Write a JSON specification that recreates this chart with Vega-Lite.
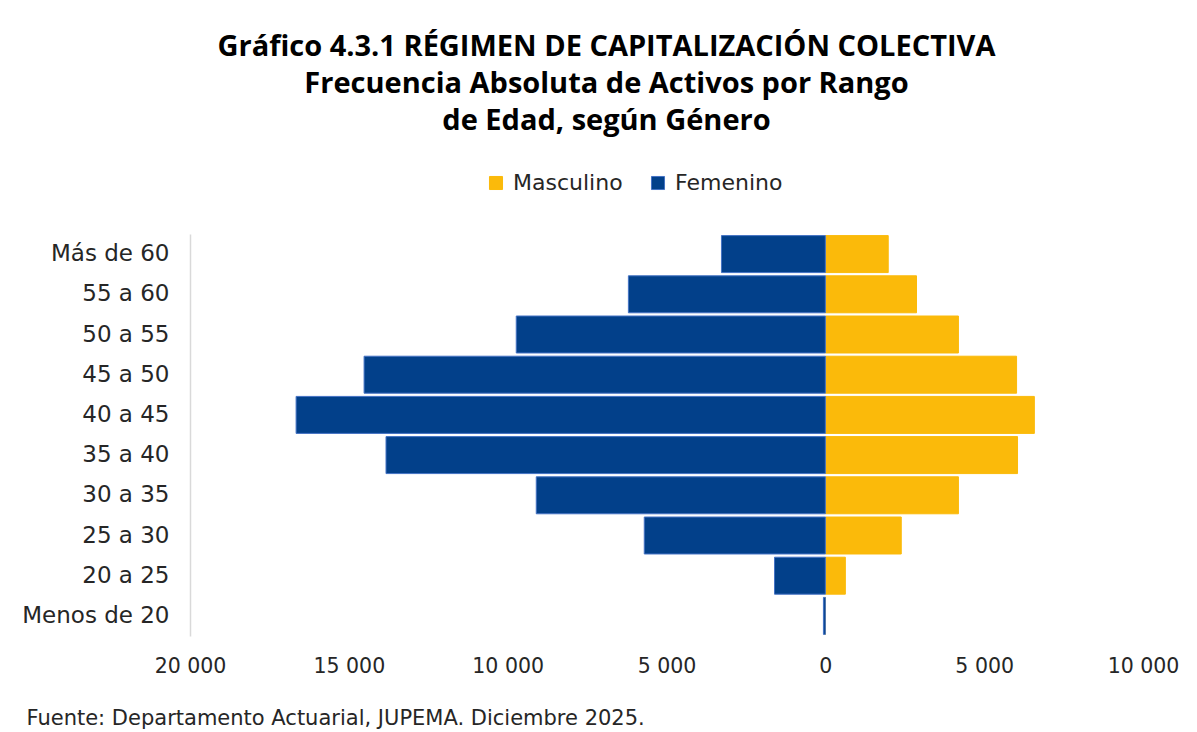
{
  "$schema": "https://vega.github.io/schema/vega-lite/v6.json",
  "autosize": {"type": "none"},
  "padding": {"left": 190, "top": 234, "right": 54, "bottom": 96},
  "width": 953,
  "height": 402,
  "background": "white",
  "title": {
    "text": ["Gráfico 4.3.1 RÉGIMEN DE CAPITALIZACIÓN COLECTIVA", "Frecuencia Absoluta de Activos por Rango", "de Edad, según Género"],
    "font": "Open Sans",
    "fontSize": 29,
    "fontWeight": "bold",
    "color": "#000000",
    "lineHeight": 37,
    "anchor": "middle",
    "frame": "group",
    "dx": -60,
    "offset": 36
  },
  "data": {
    "values": [
      {"edad": "Más de 60", "genero": "Masculino", "valor": 1980},
      {"edad": "Más de 60", "genero": "Femenino", "valor": -3270},
      {"edad": "55 a 60", "genero": "Masculino", "valor": 2870},
      {"edad": "55 a 60", "genero": "Femenino", "valor": -6200},
      {"edad": "50 a 55", "genero": "Masculino", "valor": 4190},
      {"edad": "50 a 55", "genero": "Femenino", "valor": -9730},
      {"edad": "45 a 50", "genero": "Masculino", "valor": 6020},
      {"edad": "45 a 50", "genero": "Femenino", "valor": -14520},
      {"edad": "40 a 45", "genero": "Masculino", "valor": 6580},
      {"edad": "40 a 45", "genero": "Femenino", "valor": -16660},
      {"edad": "35 a 40", "genero": "Masculino", "valor": 6050},
      {"edad": "35 a 40", "genero": "Femenino", "valor": -13830},
      {"edad": "30 a 35", "genero": "Masculino", "valor": 4190},
      {"edad": "30 a 35", "genero": "Femenino", "valor": -9100},
      {"edad": "25 a 30", "genero": "Masculino", "valor": 2390},
      {"edad": "25 a 30", "genero": "Femenino", "valor": -5700},
      {"edad": "20 a 25", "genero": "Masculino", "valor": 630},
      {"edad": "20 a 25", "genero": "Femenino", "valor": -1600},
      {"edad": "Menos de 20", "genero": "Masculino", "valor": 5},
      {"edad": "Menos de 20", "genero": "Femenino", "valor": -60}
    ]
  },
  "mark": {"type": "bar", "strokeWidth": 1},
  "encoding": {
    "y": {
      "field": "edad",
      "type": "nominal",
      "sort": ["Más de 60", "55 a 60", "50 a 55", "45 a 50", "40 a 45", "35 a 40", "30 a 35", "25 a 30", "20 a 25", "Menos de 20"],
      "scale": {"paddingInner": 0.08, "paddingOuter": 0.04},
      "axis": {
        "title": null,
        "ticks": false,
        "domain": true,
        "domainColor": "#d9d9d9",
        "domainWidth": 1.5,
        "labelFont": "DejaVu Sans",
        "labelFontSize": 23,
        "labelColor": "#262626",
        "labelPadding": 21
      }
    },
    "x": {
      "field": "valor",
      "type": "quantitative",
      "scale": {"domain": [-20000, 10000], "nice": false, "zero": false},
      "axis": {
        "values": [-20000, -15000, -10000, -5000, 0, 5000, 10000],
        "labelExpr": "replace(format(abs(datum.value), ','), ',', ' ')",
        "grid": false,
        "ticks": false,
        "domain": false,
        "labelFont": "DejaVu Sans",
        "labelFontSize": 20.5,
        "labelColor": "#262626",
        "labelPadding": 20,
        "labelOverlap": false,
        "labelFlush": false,
        "title": "Fuente: Departamento Actuarial, JUPEMA. Diciembre 2025.",
        "titleFont": "DejaVu Sans",
        "titleFontSize": 21,
        "titleFontWeight": "normal",
        "titleColor": "#262626",
        "titleAnchor": "start",
        "titleAlign": "left",
        "titleBaseline": "middle",
        "titleX": -164,
        "titleY": 82
      }
    },
    "color": {
      "field": "genero",
      "type": "nominal",
      "scale": {"domain": ["Masculino", "Femenino"], "range": ["#FBBA0A", "#02408A"]},
      "legend": {
        "title": null,
        "orient": "none",
        "direction": "horizontal",
        "legendX": 295,
        "legendY": -62,
        "symbolType": "square",
        "symbolSize": 170,
        "symbolStrokeWidth": 1,
        "labelFont": "DejaVu Sans",
        "labelFontSize": 22,
        "labelColor": "#262626",
        "labelOffset": 6,
        "columnPadding": 24
      }
    },
    "stroke": {
      "field": "genero",
      "type": "nominal",
      "scale": {"domain": ["Masculino", "Femenino"], "range": ["#FBBA0A", "#4472C4"]},
      "legend": null
    }
  },
  "config": {"view": {"stroke": null}}
}
